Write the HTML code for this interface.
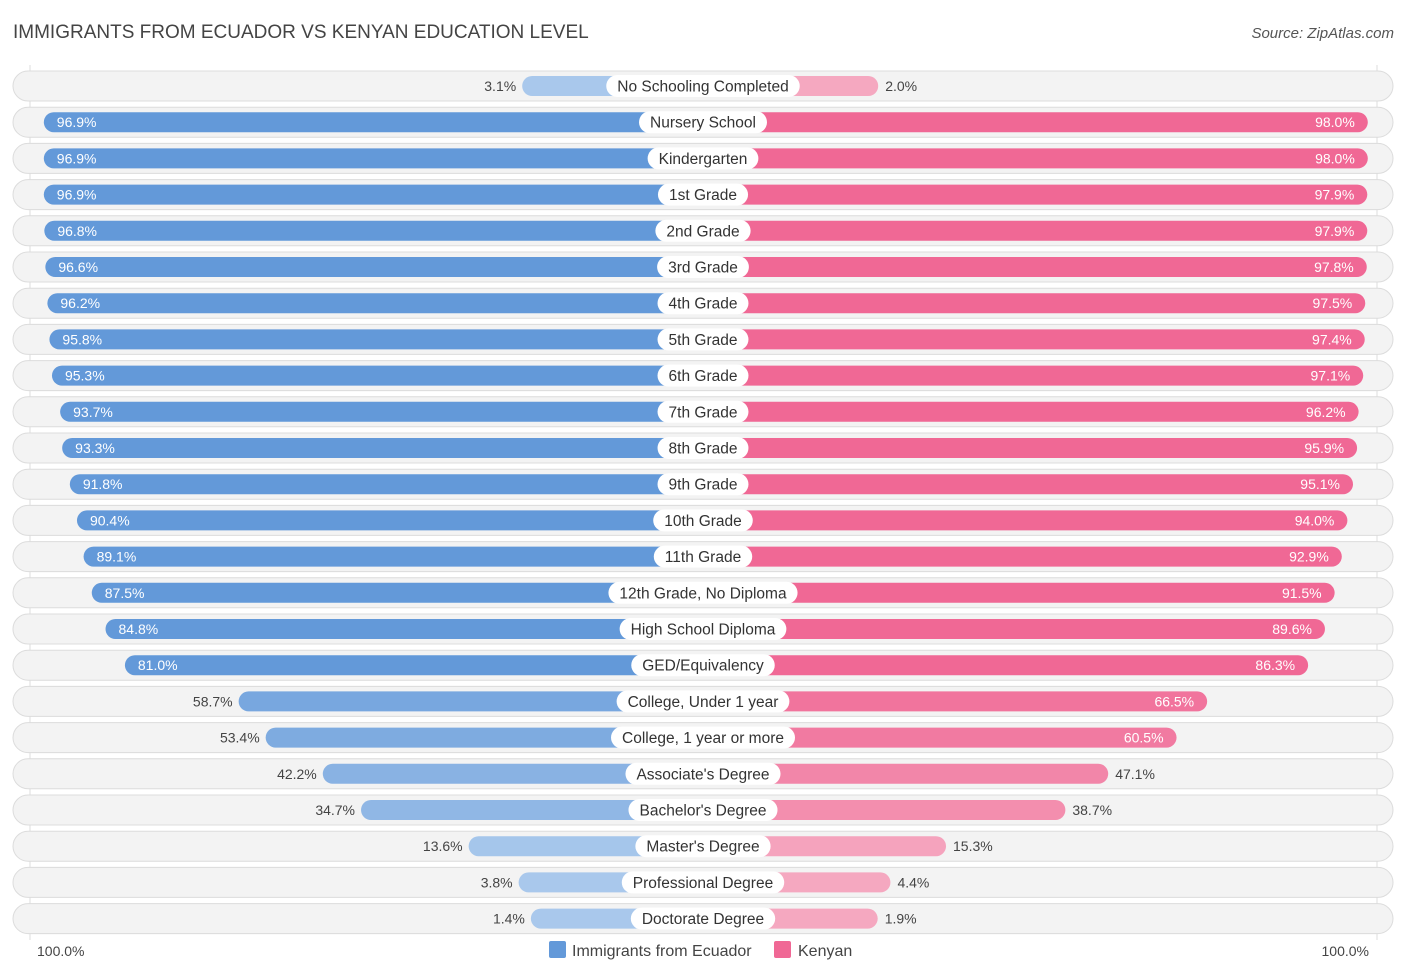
<!DOCTYPE html>
<html><head><meta charset="utf-8"><style>
body{margin:0;width:1406px;height:975px;background:#fff;font-family:"Liberation Sans",sans-serif;position:relative;overflow:hidden}
.t{position:absolute;left:13px;top:22px;font-size:19px;color:#444}
.s{position:absolute;right:12px;top:25px;font-size:15px;color:#555;font-style:italic}
#c{position:absolute;left:0;top:0}
</style></head><body>
<div class="t">IMMIGRANTS FROM ECUADOR VS KENYAN EDUCATION LEVEL</div>
<div class="s">Source: ZipAtlas.com</div>
<svg id="c" width="1406" height="975"></svg>
<script>
const categories=["No Schooling Completed","Nursery School","Kindergarten","1st Grade","2nd Grade","3rd Grade","4th Grade","5th Grade","6th Grade","7th Grade","8th Grade","9th Grade","10th Grade","11th Grade","12th Grade, No Diploma","High School Diploma","GED/Equivalency","College, Under 1 year","College, 1 year or more","Associate's Degree","Bachelor's Degree","Master's Degree","Professional Degree","Doctorate Degree"];
const ecuador=[3.1,96.9,96.9,96.9,96.8,96.6,96.2,95.8,95.3,93.7,93.3,91.8,90.4,89.1,87.5,84.8,81.0,58.7,53.4,42.2,34.7,13.6,3.8,1.4];
const kenyan=[2.0,98.0,98.0,97.9,97.9,97.8,97.5,97.4,97.1,96.2,95.9,95.1,94.0,92.9,91.5,89.6,86.3,66.5,60.5,47.1,38.7,15.3,4.4,1.9];
const NS="http://www.w3.org/2000/svg",svg=document.getElementById('c');
const cx=703,y0=86,step=36.2;
function w(v){return 165+5.1*v;}
function mix(a,b,t){return 'rgb('+a.map((x,i)=>Math.round(x+(b[i]-x)*t)).join(',')+')';}
function el(tag,attrs,parent){const e=document.createElementNS(NS,tag);for(const k in attrs)e.setAttribute(k,attrs[k]);(parent||svg).appendChild(e);return e;}
el('line',{x1:30,y1:65,x2:30,y2:940,stroke:'#ddd'});
el('line',{x1:1377,y1:65,x2:1377,y2:940,stroke:'#ddd'});
categories.forEach((c,i)=>{
 const y=y0+i*step;
 const g=el('g',{});
 
 
 el('rect',{x:13,y:y-15,width:1380,height:30,rx:15,fill:'#f3f3f3',stroke:'#dcdcdc'},g);
 const a=ecuador[i],b=kenyan[i];
 const ta=Math.min(1,Math.max(0,(a-10)/70)),tb=Math.min(1,Math.max(0,(b-10)/70));
 const ba=el('rect',{x:cx-w(a),y:y-10,width:w(a),height:20,rx:10,fill:mix([169,200,236],[99,153,217],ta)},g);
 
 
 const bb=el('rect',{x:cx,y:y-10,width:w(b),height:20,rx:10,fill:mix([245,168,192],[240,104,149],tb)},g);
 
 
 const lt=el('text',{x:cx,y:y+5.5,'text-anchor':'middle','font-size':15.5,fill:'#333'},g);lt.textContent=c;
 const tw=lt.getComputedTextLength()+22;
 const p=el('rect',{x:cx-tw/2,y:y-11,width:tw,height:22,rx:11,fill:'#fff'},g);
 g.insertBefore(p,lt);
 
 
 const ina=a>60,inb=b>60;
 const va=el('text',{x:ina?cx-w(a)+13:cx-w(a)-6,y:y+5,'text-anchor':ina?'start':'end','font-size':14,fill:ina?'#fff':'#444'},g);va.textContent=a.toFixed(1)+'%';
 
 
 const vb=el('text',{x:inb?cx+w(b)-13:cx+w(b)+7,y:y+5,'text-anchor':inb?'end':'start','font-size':14,fill:inb?'#fff':'#444'},g);vb.textContent=b.toFixed(1)+'%';
 
 
});
const t1=el('text',{x:37,y:956,'font-size':14,fill:'#444'});t1.textContent='100.0%';

const t2=el('text',{x:1369,y:956,'font-size':14,fill:'#444','text-anchor':'end'});t2.textContent='100.0%';

const l1=el('rect',{x:549,y:941,width:17,height:17,rx:2,fill:'#6399d9'});

const lt1=el('text',{x:572,y:956,'font-size':16,fill:'#444'});lt1.textContent='Immigrants from Ecuador';

const l2=el('rect',{x:774,y:941,width:17,height:17,rx:2,fill:'#f06895'});

const lt2=el('text',{x:798,y:956,'font-size':16,fill:'#444'});lt2.textContent='Kenyan';

</script>
</body></html>
